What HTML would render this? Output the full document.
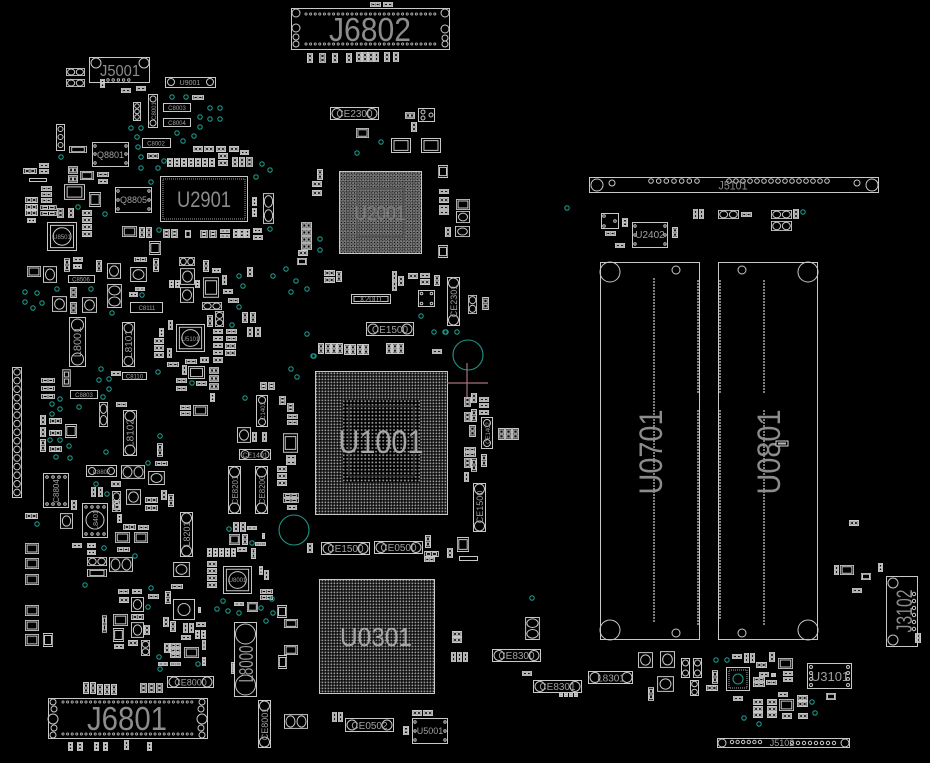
<!DOCTYPE html>
<html><head><meta charset="utf-8">
<style>
html,body{margin:0;padding:0;background:#000;}
svg{display:block}
.s{fill:none;stroke:#c8c8c8;stroke-width:1}
symbol rect,symbol circle,symbol line{fill:none;stroke:#c8c8c8;stroke-width:1;vector-effect:non-scaling-stroke}
.via{fill:none;stroke:#1e968a;stroke-width:1.1}
text{font-family:"Liberation Sans",sans-serif;fill:#8c8c8c}
.t{fill:#a0a0a0}
.pin{stroke:#b8b8b8;stroke-width:3;stroke-linecap:round;fill:none}
.pinb{stroke:#000;stroke-width:1.3;stroke-linecap:round;fill:none}
.dot{stroke:#a8a8a8;stroke-width:2;stroke-linecap:round;stroke-dasharray:0 3;fill:none}
</style></head>
<body>
<svg width="930" height="763" viewBox="0 0 930 763" xmlns="http://www.w3.org/2000/svg">
<defs>
<symbol id="h" viewBox="0 0 12 6" preserveAspectRatio="none"><rect x=".5" y=".5" width="11" height="5"/><rect x="2" y="1.6" width="3.3" height="2.8"/><rect x="6.7" y="1.6" width="3.3" height="2.8"/></symbol>
<symbol id="v" viewBox="0 0 6 12" preserveAspectRatio="none"><rect x=".5" y=".5" width="5" height="11"/><rect x="1.6" y="2" width="2.8" height="3.3"/><rect x="1.6" y="6.7" width="2.8" height="3.3"/></symbol>
<symbol id="ic" viewBox="0 0 20 14" preserveAspectRatio="none"><rect x=".5" y=".5" width="19" height="13"/><rect x="3" y="2.5" width="14" height="9"/></symbol>
<symbol id="cr" viewBox="0 0 14 14" preserveAspectRatio="none"><rect x=".5" y=".5" width="13" height="13"/><circle cx="7" cy="7" r="4.5"/></symbol>
<symbol id="dc" viewBox="0 0 24 12" preserveAspectRatio="none"><rect x=".5" y=".5" width="23" height="11"/><circle cx="6.5" cy="6" r="4.5"/><circle cx="17.5" cy="6" r="4.5"/></symbol>
<symbol id="dv" viewBox="0 0 12 24" preserveAspectRatio="none"><rect x=".5" y=".5" width="11" height="23"/><circle cx="6" cy="6.5" r="4.5"/><circle cx="6" cy="17.5" r="4.5"/></symbol>
<symbol id="qfn" viewBox="0 0 30 30" preserveAspectRatio="none"><rect x=".5" y=".5" width="29" height="29"/><rect x="3.5" y="3.5" width="23" height="23"/><circle cx="15" cy="15" r="9"/></symbol>
<pattern id="bga" width="3" height="3" patternUnits="userSpaceOnUse"><rect x=".5" y=".5" width="1.8" height="1.8" fill="#9c9c9c"/></pattern>
<pattern id="bga2" width="3.6" height="3.6" patternUnits="userSpaceOnUse"><rect x=".8" y=".8" width="1.7" height="1.7" fill="#a0a0a0"/></pattern>
<pattern id="grid" width="3.3" height="3.3" patternUnits="userSpaceOnUse"><rect x=".5" y=".5" width="2.1" height="2.1" fill="none" stroke="#aaaaaa" stroke-width=".7"/></pattern>
</defs>
<rect width="930" height="763" fill="#000"/>

<!-- ===== J6802 ===== -->
<use href="#h" x="370" y="2" width="11" height="5"/><use href="#h" x="383" y="2" width="10" height="5"/>
<rect class="s" x="291.5" y="8.5" width="158" height="41"/>
<g class="s"><circle cx="296" cy="13" r="4"/><circle cx="296" cy="28" r="4"/><circle cx="296" cy="37" r="3"/><circle cx="296" cy="44" r="3"/>
<circle cx="445" cy="13" r="4"/><circle cx="445" cy="29" r="4"/><circle cx="445" cy="38" r="3"/><circle cx="445" cy="44" r="3"/></g>
<line class="pin" x1="306" y1="14" x2="436" y2="14" stroke-dasharray="0 4.6"/><line class="pinb" x1="306" y1="14" x2="436" y2="14" stroke-dasharray="0 4.6"/>
<line class="pin" x1="306" y1="44" x2="436" y2="44" stroke-dasharray="0 4.6"/><line class="pinb" x1="306" y1="44" x2="436" y2="44" stroke-dasharray="0 4.6"/>
<text x="370" y="41" font-size="33" text-anchor="middle" textLength="82" lengthAdjust="spacingAndGlyphs">J6802</text>
<use href="#v" x="307" y="53" width="6" height="10"/><use href="#v" x="319" y="53" width="7" height="10"/><use href="#v" x="332" y="53" width="6" height="10"/><use href="#v" x="346" y="53" width="6" height="10"/>
<use href="#v" x="356" y="52" width="6" height="10"/><use href="#v" x="362" y="52" width="6" height="10"/><use href="#v" x="368" y="52" width="6" height="10"/><use href="#v" x="374" y="52" width="5" height="10"/>
<use href="#v" x="384" y="52" width="6" height="10"/><use href="#v" x="393" y="52" width="6" height="10"/>

<!-- ===== top-left cluster ===== -->
<use href="#dc" x="66" y="68" width="19" height="8"/><use href="#dc" x="66" y="79" width="19" height="8"/>
<rect class="s" x="89.5" y="57.5" width="60" height="25"/>
<circle class="s" cx="96" cy="63" r="5"/><circle class="s" cx="144" cy="63" r="5"/>
<line class="pin" x1="108" y1="80" x2="134" y2="80" stroke-dasharray="0 5.2" style="stroke-width:3.4"/><line class="pinb" x1="108" y1="80" x2="134" y2="80" stroke-dasharray="0 5.2" style="stroke-width:1.6"/>
<text x="120" y="76" font-size="16" text-anchor="middle" textLength="40" lengthAdjust="spacingAndGlyphs">J5001</text>
<use href="#v" x="100" y="79" width="5" height="9"/>
<use href="#h" x="121" y="88" width="10" height="5"/><use href="#h" x="136" y="86" width="10" height="5"/>
<rect class="s" x="165.5" y="77.5" width="50" height="10"/><circle class="s" cx="171" cy="82" r="3.5"/><circle class="s" cx="210" cy="82" r="3.5"/>
<text class="t" x="190" y="85" font-size="7" text-anchor="middle">U9001</text>
<rect class="s" x="148.5" y="94.5" width="9" height="33"/><circle class="s" cx="153" cy="99" r="3"/><circle class="s" cx="153" cy="123" r="3"/>
<text class="t" transform="translate(156,111) rotate(-90)" font-size="6" text-anchor="middle">C8001</text>
<rect class="s" x="133.5" y="102.5" width="7" height="18"/><circle class="s" cx="137" cy="106" r="2.3"/><circle class="s" cx="137" cy="111.5" r="2.3"/><circle class="s" cx="137" cy="117" r="2.3"/>
<rect class="s" x="163.5" y="103.5" width="27" height="8"/><text class="t" x="177" y="110" font-size="6" text-anchor="middle">C8003</text>
<rect class="s" x="163.5" y="118.5" width="27" height="8"/><text class="t" x="177" y="125" font-size="6" text-anchor="middle">C8004</text>
<use href="#h" x="192" y="95" width="12" height="5"/>
<rect class="s" x="142.5" y="138.5" width="28" height="9"/><text class="t" x="156" y="145.5" font-size="6" text-anchor="middle">C8002</text>
<rect class="s" x="56.5" y="124.5" width="8" height="26"/><circle class="s" cx="60.5" cy="129" r="2.5"/><circle class="s" cx="60.5" cy="137" r="2.5"/><circle class="s" cx="60.5" cy="145" r="2.5"/>
<use href="#ic" x="69" y="146" width="18" height="7"/>
<rect class="s" x="92.5" y="142.5" width="36" height="24"/>
<g class="s"><circle cx="95" cy="146" r="1.2"/><circle cx="95" cy="154" r="1.2"/><circle cx="95" cy="163" r="1.2"/><circle cx="126" cy="146" r="1.2"/><circle cx="126" cy="154" r="1.2"/><circle cx="126" cy="163" r="1.2"/></g>
<text class="t" x="110.5" y="158" font-size="9" text-anchor="middle">Q8801</text>
<use href="#h" x="147" y="153" width="12" height="6"/>
<use href="#v" x="167" y="158" width="6" height="9"/><use href="#v" x="174" y="158" width="6" height="9"/><use href="#v" x="181" y="158" width="6" height="9"/><use href="#v" x="188" y="158" width="6" height="9"/><use href="#v" x="195" y="158" width="6" height="9"/><use href="#v" x="202" y="158" width="6" height="9"/><use href="#v" x="209" y="158" width="6" height="9"/>
<use href="#h" x="193" y="146" width="10" height="6"/><use href="#h" x="204" y="146" width="10" height="6"/><use href="#h" x="216" y="146" width="10" height="6"/><use href="#h" x="229" y="146" width="10" height="6"/><use href="#h" x="240" y="150" width="9" height="5"/>
<use href="#h" x="218" y="153" width="10" height="6"/><use href="#h" x="218" y="160" width="10" height="6"/>
<use href="#v" x="232" y="157" width="6" height="10"/><use href="#v" x="239" y="157" width="6" height="10"/><use href="#v" x="246" y="157" width="7" height="10"/>
<!-- U2901 -->
<rect class="s" x="160.5" y="176.5" width="87" height="45"/><rect x="163" y="179" width="82" height="40" fill="none" stroke="#9a9a9a" stroke-width="1" stroke-dasharray="1 1"/>
<text x="204" y="207" font-size="22" text-anchor="middle" textLength="54" lengthAdjust="spacingAndGlyphs">U2901</text>
<use href="#dv" x="263" y="193" width="11" height="31"/><use href="#v" x="252" y="197" width="5" height="9"/><use href="#v" x="252" y="208" width="5" height="9"/>
<rect class="s" x="115.5" y="187.5" width="36" height="25"/>
<g class="s"><circle cx="118" cy="191" r="1.2"/><circle cx="118" cy="200" r="1.2"/><circle cx="118" cy="209" r="1.2"/><circle cx="149" cy="191" r="1.2"/><circle cx="149" cy="200" r="1.2"/><circle cx="149" cy="209" r="1.2"/></g>
<text class="t" x="133.5" y="203" font-size="9" text-anchor="middle">Q8805</text>
<use href="#ic" x="64" y="184" width="21" height="16"/><use href="#ic" x="89" y="192" width="12" height="15"/>
<use href="#qfn" x="47" y="222" width="30" height="29"/><text class="t" x="62" y="239" font-size="6" text-anchor="middle">U8501</text>
<use href="#v" x="163" y="229" width="7" height="9"/><use href="#v" x="171" y="229" width="7" height="9"/><use href="#ic" x="185" y="230" width="6" height="8"/>
<use href="#v" x="200" y="230" width="8" height="8"/><use href="#v" x="209" y="230" width="8" height="8"/>
<use href="#h" x="220" y="229" width="10" height="4"/><use href="#h" x="220" y="234" width="10" height="4"/>
<use href="#v" x="233" y="229" width="6" height="9"/><use href="#v" x="239" y="229" width="6" height="9"/><use href="#v" x="245" y="229" width="5" height="9"/>
<use href="#h" x="253" y="228" width="9" height="5"/><use href="#h" x="253" y="235" width="10" height="5"/>
<use href="#ic" x="122" y="226" width="15" height="11"/><use href="#v" x="139" y="227" width="6" height="11"/><use href="#v" x="146" y="227" width="6" height="11"/><use href="#ic" x="149" y="241" width="12" height="14"/>
<use href="#h" x="23" y="168" width="14" height="6"/><use href="#h" x="39" y="163" width="10" height="5"/><use href="#h" x="39" y="169" width="10" height="5"/>
<rect class="s" x="29.5" y="178.5" width="17" height="3"/>
<use href="#h" x="41" y="186" width="11" height="5"/><use href="#h" x="41" y="192" width="11" height="5"/><use href="#h" x="41" y="198" width="11" height="5"/>
<use href="#h" x="25" y="197" width="13" height="6"/><use href="#h" x="25" y="204" width="13" height="6"/><use href="#h" x="25" y="210" width="13" height="6"/><use href="#h" x="27" y="218" width="9" height="5"/>
<use href="#h" x="40" y="205" width="17" height="5"/><use href="#h" x="40" y="211" width="17" height="5"/>
<use href="#v" x="57" y="208" width="7" height="10"/><use href="#v" x="68" y="208" width="6" height="10"/>
<use href="#h" x="82" y="210" width="10" height="6"/><use href="#h" x="82" y="217" width="10" height="6"/><use href="#h" x="82" y="224" width="10" height="6"/><use href="#h" x="82" y="231" width="10" height="6"/>
<use href="#h" x="68" y="166" width="10" height="8"/><use href="#h" x="68" y="175" width="10" height="8"/><use href="#ic" x="80" y="171" width="14" height="9"/>
<use href="#h" x="97" y="172" width="12" height="5"/><use href="#h" x="98" y="179" width="10" height="5"/>

<!-- ===== left-middle cluster ===== -->
<use href="#ic" x="27" y="266" width="14" height="11"/><use href="#cr" x="43" y="266" width="14" height="17"/>
<rect class="s" x="68.5" y="275.5" width="26" height="7"/><text class="t" x="81" y="281.5" font-size="6" text-anchor="middle">C8506</text>
<use href="#v" x="64" y="258" width="6" height="14"/><use href="#h" x="73" y="257" width="10" height="5"/><use href="#h" x="73" y="264" width="9" height="5"/>
<use href="#v" x="96" y="260" width="6" height="12"/><use href="#cr" x="107" y="263" width="14" height="16"/><use href="#cr" x="130" y="267" width="17" height="15"/>
<use href="#h" x="134" y="257" width="13" height="5"/><use href="#v" x="153" y="258" width="6" height="14"/>
<use href="#dc" x="179" y="257" width="16" height="9"/><use href="#cr" x="180" y="268" width="15" height="17"/><use href="#cr" x="180" y="287" width="14" height="16"/>
<use href="#v" x="169" y="280" width="5" height="8"/><use href="#v" x="175" y="280" width="5" height="8"/><use href="#v" x="195" y="280" width="5" height="8"/>
<use href="#ic" x="203" y="277" width="16" height="21"/><use href="#v" x="203" y="260" width="6" height="12"/><use href="#h" x="212" y="268" width="9" height="5"/>
<use href="#v" x="222" y="275" width="5" height="10"/><use href="#h" x="223" y="289" width="10" height="5"/><use href="#h" x="228" y="298" width="11" height="5"/>
<use href="#dc" x="202" y="302" width="20" height="8"/><use href="#v" x="207" y="315" width="6" height="12"/><use href="#dv" x="215" y="311" width="9" height="16"/>
<use href="#v" x="242" y="312" width="6" height="11"/><use href="#v" x="250" y="312" width="6" height="11"/><use href="#v" x="247" y="327" width="6" height="10"/><use href="#v" x="255" y="327" width="6" height="10"/>
<use href="#v" x="247" y="267" width="6" height="10"/>
<use href="#cr" x="52" y="296" width="15" height="16"/><use href="#v" x="70" y="287" width="7" height="11"/><use href="#v" x="70" y="302" width="7" height="12"/>
<use href="#cr" x="82" y="297" width="15" height="16"/><use href="#dv" x="107" y="284" width="15" height="24"/>
<rect class="s" x="130.5" y="302.5" width="32" height="10"/><text class="t" x="147" y="310" font-size="6" text-anchor="middle">C8111</text>
<use href="#h" x="129" y="292" width="9" height="5"/><use href="#h" x="135" y="287" width="10" height="4"/>
<!-- L8001 / L8101 -->
<rect class="s" x="69.5" y="317.5" width="16" height="49"/><circle class="s" cx="77.5" cy="325" r="6"/><circle class="s" cx="77.5" cy="359" r="6"/>
<text class="t" transform="translate(81,342) rotate(-90)" font-size="11" text-anchor="middle">L8001</text>
<rect class="s" x="122.5" y="322.5" width="12" height="44"/><circle class="s" cx="128.5" cy="328" r="4.5"/><circle class="s" cx="128.5" cy="361" r="4.5"/>
<text class="t" transform="translate(132,344) rotate(-90)" font-size="10" text-anchor="middle">L8101</text>
<use href="#qfn" x="176" y="324" width="29" height="28"/><text class="t" x="190.5" y="341" font-size="6" text-anchor="middle">U5101</text>
<use href="#h" x="154" y="338" width="10" height="6"/><use href="#h" x="154" y="345" width="10" height="6"/><use href="#h" x="154" y="352" width="10" height="6"/>
<use href="#v" x="167" y="348" width="5" height="10"/><use href="#v" x="159" y="328" width="5" height="9"/><use href="#v" x="168" y="320" width="5" height="10"/>
<use href="#h" x="167" y="362" width="12" height="5"/><use href="#v" x="182" y="365" width="5" height="10"/><use href="#ic" x="188" y="366" width="17" height="13"/>
<use href="#h" x="185" y="359" width="12" height="5"/><use href="#h" x="200" y="357" width="9" height="6"/>
<use href="#h" x="209" y="367" width="10" height="7"/><use href="#h" x="209" y="375" width="10" height="7"/><use href="#h" x="209" y="383" width="10" height="7"/>
<use href="#v" x="210" y="393" width="5" height="9"/><use href="#h" x="196" y="381" width="11" height="5"/><use href="#h" x="176" y="378" width="11" height="5"/><use href="#h" x="176" y="386" width="11" height="5"/>
<use href="#h" x="213" y="329" width="10" height="5"/><use href="#h" x="213" y="336" width="10" height="5"/><use href="#h" x="213" y="343" width="10" height="5"/><use href="#h" x="213" y="350" width="10" height="5"/><use href="#h" x="213" y="357" width="10" height="6"/>
<use href="#h" x="226" y="329" width="11" height="5"/><use href="#h" x="226" y="336" width="11" height="5"/><use href="#h" x="225" y="343" width="11" height="6"/><use href="#h" x="225" y="350" width="11" height="6"/>
<use href="#h" x="180" y="405" width="11" height="5"/><use href="#h" x="180" y="411" width="11" height="5"/><use href="#ic" x="193" y="405" width="15" height="11"/>
<use href="#v" x="260" y="382" width="7" height="8"/><use href="#v" x="268" y="382" width="7" height="8"/>
<rect class="s" x="256.5" y="395.5" width="11" height="31"/><circle class="s" cx="262" cy="400" r="3.5"/><circle class="s" cx="262" cy="422" r="3.5"/>
<text class="t" transform="translate(265,411) rotate(-90)" font-size="6" text-anchor="middle">C1403</text>
<use href="#v" x="279" y="396" width="7" height="9"/><use href="#v" x="287" y="403" width="7" height="9"/>
<use href="#h" x="287" y="414" width="11" height="5"/><use href="#h" x="287" y="420" width="11" height="5"/>
<use href="#ic" x="283" y="433" width="15" height="20"/><use href="#h" x="286" y="455" width="10" height="5"/><use href="#h" x="286" y="460" width="10" height="5"/>
<use href="#h" x="277" y="466" width="10" height="6"/><use href="#h" x="277" y="473" width="10" height="6"/><use href="#h" x="277" y="480" width="10" height="6"/>
<use href="#h" x="283" y="493" width="16" height="5"/><use href="#h" x="283" y="498" width="16" height="5"/><use href="#h" x="287" y="505" width="10" height="5"/>
<use href="#cr" x="237" y="427" width="14" height="16"/><use href="#v" x="252" y="432" width="5" height="10"/><use href="#v" x="262" y="432" width="5" height="10"/>
<rect class="s" x="239.5" y="449.5" width="31" height="10"/><circle class="s" cx="245" cy="454.5" r="4"/><circle class="s" cx="265" cy="454.5" r="4"/><text class="t" x="255" y="457.5" font-size="7" text-anchor="middle">CE1401</text>
<rect class="s" x="228.5" y="466.5" width="12" height="47"/><circle class="s" cx="234.5" cy="472" r="5"/><circle class="s" cx="234.5" cy="508" r="5"/>
<text class="t" transform="translate(238,490) rotate(-90)" font-size="8" text-anchor="middle">CE8201</text>
<rect class="s" x="255.5" y="466.5" width="12" height="47"/><circle class="s" cx="261.5" cy="472" r="5"/><circle class="s" cx="261.5" cy="508" r="5"/>
<text class="t" transform="translate(265,490) rotate(-90)" font-size="8" text-anchor="middle">CE8200</text>
<!-- left vertical connector -->
<rect class="s" x="12.5" y="367.5" width="9" height="130"/>
<g class="s"><circle cx="17" cy="372" r="3.3"/><circle cx="17" cy="380.6" r="3.3"/><circle cx="17" cy="389.2" r="3.3"/><circle cx="17" cy="397.8" r="3.3"/><circle cx="17" cy="406.4" r="3.3"/><circle cx="17" cy="415" r="3.3"/><circle cx="17" cy="423.6" r="3.3"/><circle cx="17" cy="432.2" r="3.3"/><circle cx="17" cy="440.8" r="3.3"/><circle cx="17" cy="449.4" r="3.3"/><circle cx="17" cy="458" r="3.3"/><circle cx="17" cy="466.6" r="3.3"/><circle cx="17" cy="475.2" r="3.3"/><circle cx="17" cy="483.8" r="3.3"/><circle cx="17" cy="492.4" r="3.3"/></g>
<use href="#h" x="41" y="378" width="14" height="5"/><use href="#h" x="41" y="386" width="14" height="5"/><use href="#h" x="41" y="394" width="14" height="5"/>
<use href="#v" x="62" y="369" width="9" height="18"/>
<rect class="s" x="70.5" y="390.5" width="27" height="8"/><text class="t" x="84" y="397" font-size="6" text-anchor="middle">C8803</text>
<use href="#dv" x="99" y="402" width="9" height="25"/><use href="#h" x="111" y="371" width="10" height="5"/>
<rect class="s" x="122.5" y="372.5" width="24" height="7"/><text class="t" x="134.5" y="378.5" font-size="6" text-anchor="middle">C8110</text>
<use href="#h" x="116" y="402" width="11" height="5"/>
<rect class="s" x="123.5" y="410.5" width="13" height="45"/><circle class="s" cx="130" cy="416" r="5"/><circle class="s" cx="130" cy="450" r="5"/>
<text class="t" transform="translate(133.5,433) rotate(-90)" font-size="10" text-anchor="middle">L8102</text>
<use href="#v" x="40" y="415" width="6" height="10"/><use href="#v" x="40" y="427" width="6" height="10"/><use href="#v" x="40" y="439" width="6" height="13"/>
<use href="#h" x="49" y="418" width="13" height="6"/><use href="#h" x="49" y="430" width="13" height="6"/><use href="#h" x="49" y="446" width="13" height="6"/>
<use href="#ic" x="65" y="424" width="12" height="14"/>
<use href="#v" x="157" y="443" width="6" height="14"/><use href="#h" x="155" y="461" width="13" height="5"/>
<rect class="s" x="86.5" y="465.5" width="30" height="11"/><circle class="s" cx="92" cy="471" r="3.5"/><circle class="s" cx="111" cy="471" r="3.5"/><text class="t" x="101.5" y="474" font-size="6" text-anchor="middle">C8802</text>
<use href="#dc" x="121" y="465" width="24" height="14"/><use href="#cr" x="148" y="471" width="17" height="14"/>
<rect class="s" x="43.5" y="473.5" width="25" height="34"/>
<g class="s"><circle cx="47" cy="477" r="1.3"/><circle cx="53" cy="477" r="1.3"/><circle cx="59" cy="477" r="1.3"/><circle cx="65" cy="477" r="1.3"/><circle cx="47" cy="504" r="1.3"/><circle cx="53" cy="504" r="1.3"/><circle cx="59" cy="504" r="1.3"/><circle cx="65" cy="504" r="1.3"/></g>
<text class="t" transform="translate(59,491) rotate(-90)" font-size="8" text-anchor="middle">C8804</text>
<use href="#v" x="91" y="487" width="5" height="10"/><use href="#v" x="98" y="487" width="5" height="10"/><use href="#h" x="111" y="481" width="10" height="6"/>
<use href="#dv" x="112" y="491" width="9" height="21"/><use href="#cr" x="126" y="489" width="15" height="16"/>
<use href="#h" x="145" y="497" width="13" height="6"/><use href="#h" x="145" y="505" width="13" height="6"/><use href="#v" x="161" y="490" width="6" height="10"/><use href="#v" x="168" y="494" width="6" height="13"/>
<rect class="s" x="82.5" y="503.5" width="25" height="34"/><circle class="s" cx="95" cy="520" r="9"/>
<g class="s"><circle cx="86" cy="507" r="1.2"/><circle cx="92" cy="507" r="1.2"/><circle cx="98" cy="507" r="1.2"/><circle cx="104" cy="507" r="1.2"/><circle cx="86" cy="534" r="1.2"/><circle cx="92" cy="534" r="1.2"/><circle cx="98" cy="534" r="1.2"/><circle cx="104" cy="534" r="1.2"/></g>
<text class="t" transform="translate(98,520) rotate(-90)" font-size="7" text-anchor="middle">L8401</text>
<use href="#h" x="25" y="513" width="13" height="6"/><use href="#v" x="71" y="500" width="6" height="10"/>

<!-- ===== lower-left cluster ===== -->
<use href="#cr" x="60" y="513" width="13" height="16"/><use href="#h" x="72" y="543" width="10" height="5"/>
<use href="#h" x="87" y="543" width="9" height="5"/><use href="#h" x="87" y="550" width="9" height="5"/>
<use href="#dc" x="87" y="557" width="20" height="9"/><use href="#ic" x="87" y="569" width="20" height="8"/><use href="#dc" x="109" y="557" width="24" height="15"/>
<use href="#v" x="113" y="500" width="8" height="10"/><use href="#v" x="117" y="514" width="5" height="9"/><use href="#h" x="123" y="524" width="13" height="6"/><use href="#h" x="138" y="525" width="11" height="5"/>
<use href="#ic" x="115" y="532" width="15" height="11"/><use href="#ic" x="134" y="532" width="14" height="11"/><use href="#h" x="117" y="547" width="13" height="5"/>
<rect class="s" x="180.5" y="512.5" width="12" height="44"/><circle class="s" cx="186.5" cy="518" r="5"/><circle class="s" cx="186.5" cy="551" r="5"/>
<text class="t" transform="translate(190,534) rotate(-90)" font-size="9" text-anchor="middle">L8201</text>
<use href="#cr" x="173" y="562" width="17" height="15"/>
<use href="#ic" x="25" y="543" width="14" height="11"/><use href="#ic" x="25" y="558" width="14" height="11"/><use href="#ic" x="25" y="574" width="14" height="11"/>
<use href="#ic" x="25" y="605" width="14" height="11"/><use href="#ic" x="25" y="620" width="14" height="11"/><use href="#ic" x="25" y="634" width="14" height="12"/><use href="#ic" x="43" y="633" width="10" height="14"/>
<use href="#h" x="118" y="589" width="11" height="5"/><use href="#h" x="132" y="589" width="10" height="5"/><use href="#h" x="148" y="594" width="11" height="5"/><use href="#h" x="119" y="597" width="10" height="6"/>
<use href="#cr" x="131" y="597" width="13" height="15"/><use href="#v" x="165" y="591" width="6" height="13"/><use href="#h" x="171" y="584" width="12" height="5"/>
<rect class="s" x="173.5" y="599.5" width="21" height="20"/><circle class="s" cx="184" cy="609.5" r="6"/><use href="#v" x="198" y="607" width="3" height="6"/>
<use href="#v" x="102" y="615" width="5" height="18"/><use href="#ic" x="113" y="614" width="15" height="12"/><use href="#h" x="131" y="614" width="13" height="6"/>
<use href="#cr" x="131" y="622" width="13" height="16"/><use href="#v" x="144" y="625" width="6" height="10"/><use href="#ic" x="113" y="628" width="11" height="14"/>
<use href="#h" x="114" y="644" width="10" height="5"/><use href="#h" x="128" y="640" width="10" height="6"/><use href="#dv" x="141" y="640" width="9" height="16"/>
<use href="#v" x="163" y="617" width="6" height="10"/><use href="#v" x="170" y="621" width="6" height="11"/>
<use href="#v" x="183" y="623" width="5" height="10"/><use href="#v" x="189" y="623" width="5" height="10"/><use href="#h" x="196" y="622" width="10" height="5"/>
<use href="#v" x="195" y="630" width="5" height="9"/><use href="#v" x="201" y="630" width="5" height="9"/><use href="#h" x="181" y="635" width="10" height="5"/>
<use href="#v" x="202" y="640" width="4" height="10"/><use href="#ic" x="184" y="647" width="15" height="11"/><use href="#v" x="202" y="657" width="4" height="9"/>
<use href="#v" x="164" y="643" width="6" height="10"/><use href="#h" x="170" y="643" width="11" height="5"/><use href="#h" x="170" y="648" width="11" height="5"/><use href="#h" x="170" y="653" width="11" height="5"/>
<use href="#h" x="158" y="662" width="10" height="4"/><use href="#h" x="170" y="662" width="11" height="4"/>
<use href="#v" x="207" y="548" width="5" height="9"/><use href="#v" x="213" y="548" width="5" height="9"/><use href="#v" x="219" y="548" width="5" height="9"/><use href="#v" x="225" y="548" width="5" height="9"/><use href="#v" x="231" y="548" width="5" height="9"/>
<use href="#h" x="207" y="561" width="10" height="6"/><use href="#h" x="207" y="568" width="10" height="6"/><use href="#h" x="207" y="575" width="10" height="6"/><use href="#h" x="207" y="582" width="10" height="6"/>
<use href="#qfn" x="223" y="566" width="29" height="28"/><text class="t" x="237.5" y="582" font-size="6" text-anchor="middle">U8001</text>
<use href="#v" x="233" y="522" width="6" height="10"/><use href="#v" x="240" y="522" width="6" height="10"/><use href="#ic" x="229" y="534" width="11" height="11"/>
<use href="#v" x="242" y="534" width="6" height="11"/><use href="#h" x="247" y="526" width="10" height="4"/><use href="#h" x="237" y="547" width="10" height="5"/>
<use href="#v" x="251" y="548" width="5" height="11"/><use href="#h" x="255" y="542" width="11" height="4"/><use href="#v" x="262" y="533" width="3" height="6"/>
<use href="#v" x="259" y="566" width="4" height="9"/><use href="#v" x="264" y="570" width="5" height="10"/>
<use href="#h" x="260" y="589" width="13" height="5"/><use href="#h" x="260" y="595" width="13" height="5"/><use href="#ic" x="247" y="602" width="11" height="10"/><use href="#h" x="234" y="602" width="10" height="4"/>
<use href="#ic" x="277" y="605" width="10" height="13"/><use href="#ic" x="284" y="619" width="14" height="9"/><use href="#ic" x="284" y="645" width="14" height="10"/><use href="#ic" x="278" y="655" width="9" height="14"/>
<!-- L8000 -->
<rect class="s" x="234.5" y="622.5" width="22" height="74"/><circle class="s" cx="245.5" cy="634" r="10"/><circle class="s" cx="245.5" cy="685" r="10"/>
<text transform="translate(253,664) rotate(-90)" font-size="20" text-anchor="middle" textLength="37" lengthAdjust="spacingAndGlyphs" style="fill:#9a9a9a">L8000</text>
<use href="#v" x="231" y="662" width="3" height="12"/>
<rect class="s" x="167.5" y="676.5" width="46" height="11"/><circle class="s" cx="174" cy="682" r="5"/><circle class="s" cx="207" cy="682" r="5"/><text class="t" x="190.5" y="685.5" font-size="9" text-anchor="middle">CE8000</text>
<rect class="s" x="258.5" y="700.5" width="12" height="47"/><circle class="s" cx="264.5" cy="706" r="5"/><circle class="s" cx="264.5" cy="742" r="5"/>
<text class="t" transform="translate(268,724) rotate(-90)" font-size="9" text-anchor="middle">CE8001</text>
<use href="#dc" x="284" y="714" width="24" height="15"/>
<use href="#v" x="83" y="682" width="6" height="12"/><use href="#v" x="90" y="682" width="6" height="12"/><use href="#v" x="97" y="684" width="6" height="11"/><use href="#v" x="104" y="684" width="6" height="11"/><use href="#v" x="111" y="684" width="6" height="11"/>
<use href="#v" x="140" y="683" width="7" height="10"/><use href="#v" x="148" y="683" width="7" height="10"/><use href="#v" x="156" y="683" width="7" height="10"/>
<!-- J6801 -->
<rect class="s" x="48.5" y="698.5" width="159" height="40"/>
<g class="s"><circle cx="53" cy="702" r="3"/><circle cx="54" cy="709" r="3"/><circle cx="53" cy="719" r="5"/><circle cx="54" cy="728" r="3"/><circle cx="53" cy="735" r="3"/>
<circle cx="202" cy="702" r="3"/><circle cx="201" cy="709" r="3"/><circle cx="202" cy="719" r="5"/><circle cx="201" cy="728" r="3"/><circle cx="202" cy="735" r="3"/></g>
<line class="pin" x1="63" y1="702" x2="193" y2="702" stroke-dasharray="0 4.6"/><line class="pinb" x1="63" y1="702" x2="193" y2="702" stroke-dasharray="0 4.6"/>
<line class="pin" x1="63" y1="734" x2="193" y2="734" stroke-dasharray="0 4.6"/><line class="pinb" x1="63" y1="734" x2="193" y2="734" stroke-dasharray="0 4.6"/>
<text x="127" y="730" font-size="33" text-anchor="middle" textLength="80" lengthAdjust="spacingAndGlyphs">J6801</text>
<use href="#v" x="68" y="742" width="5" height="9"/><use href="#v" x="77" y="742" width="6" height="9"/><use href="#v" x="94" y="742" width="5" height="9"/><use href="#v" x="103" y="742" width="5" height="9"/><use href="#v" x="124" y="740" width="5" height="10"/><use href="#v" x="147" y="742" width="5" height="9"/>

<!-- ===== center top ===== -->
<rect class="s" x="330.5" y="107.5" width="48" height="12"/><circle class="s" cx="337" cy="113.5" r="5"/><circle class="s" cx="372" cy="113.5" r="5"/><text class="t" x="354.5" y="117" font-size="10" text-anchor="middle">CE2300</text>
<use href="#h" x="405" y="112" width="10" height="7"/><rect class="s" x="418.5" y="108.5" width="16" height="13"/><circle class="s" cx="423" cy="112" r="2"/><circle class="s" cx="423" cy="118" r="2"/><circle class="s" cx="431" cy="115" r="2"/>
<use href="#v" x="411" y="122" width="6" height="10"/><use href="#ic" x="356" y="128" width="13" height="10"/><use href="#ic" x="391" y="138" width="20" height="15"/><use href="#ic" x="421" y="138" width="20" height="15"/>
<!-- U2001 -->
<rect x="339.5" y="171.5" width="82" height="82" fill="url(#grid)" stroke="#c8c8c8"/>
<rect x="357" y="189" width="47" height="47" fill="none" stroke="#555" stroke-width="2"/>
<text x="380" y="220" font-size="20" text-anchor="middle" textLength="51" lengthAdjust="spacingAndGlyphs" style="fill:#7a7a7a">U2001</text>
<use href="#v" x="317" y="169" width="6" height="11"/><use href="#h" x="312" y="181" width="10" height="6"/><use href="#h" x="312" y="190" width="10" height="6"/>
<use href="#ic" x="438" y="165" width="10" height="13"/><use href="#h" x="439" y="189" width="10" height="5"/><use href="#h" x="439" y="197" width="10" height="6"/><use href="#h" x="439" y="205" width="10" height="5"/><use href="#h" x="439" y="210" width="10" height="5"/>
<use href="#ic" x="456" y="199" width="14" height="11"/><use href="#cr" x="456" y="211" width="14" height="12"/><use href="#v" x="445" y="227" width="6" height="10"/><use href="#cr" x="455" y="226" width="15" height="11"/><use href="#ic" x="438" y="245" width="10" height="13"/>
<use href="#h" x="301" y="222" width="11" height="7"/><use href="#h" x="301" y="229" width="11" height="7"/><use href="#h" x="301" y="236" width="11" height="7"/><use href="#h" x="301" y="243" width="11" height="7"/>
<use href="#h" x="298" y="250" width="10" height="6"/><use href="#ic" x="297" y="258" width="10" height="7"/>
<use href="#h" x="324" y="270" width="11" height="6"/><use href="#h" x="324" y="277" width="11" height="6"/><use href="#v" x="336" y="271" width="6" height="11"/>
<use href="#v" x="392" y="271" width="5" height="10"/><use href="#v" x="392" y="281" width="5" height="10"/><use href="#v" x="398" y="276" width="6" height="10"/>
<use href="#h" x="408" y="273" width="10" height="6"/><use href="#h" x="420" y="273" width="10" height="5"/><use href="#h" x="420" y="279" width="10" height="6"/><use href="#v" x="434" y="275" width="6" height="11"/>
<rect class="s" x="351.5" y="294.5" width="39" height="9"/><rect class="s" x="354" y="296.5" width="34" height="5"/><text class="t" x="371" y="302" font-size="8" text-anchor="middle">X2001</text>
<rect class="s" x="418.5" y="290.5" width="16" height="16"/><circle class="s" cx="421.5" cy="293.5" r="1.3"/><circle class="s" cx="431.5" cy="293.5" r="1.3"/><circle class="s" cx="421.5" cy="303.5" r="1.3"/><circle class="s" cx="431.5" cy="303.5" r="1.3"/>
<rect class="s" x="447.5" y="277.5" width="12" height="48"/><circle class="s" cx="453.5" cy="283" r="5"/><circle class="s" cx="453.5" cy="320" r="5"/>
<text class="t" transform="translate(457,301) rotate(-90)" font-size="9" text-anchor="middle">CE2301</text>
<use href="#dv" x="468" y="295" width="9" height="19"/><use href="#v" x="482" y="297" width="7" height="13"/>
<rect class="s" x="366.5" y="322.5" width="47" height="13"/><circle class="s" cx="373" cy="329" r="5"/><circle class="s" cx="407" cy="329" r="5"/><text class="t" x="390" y="333" font-size="10" text-anchor="middle">CE1500</text>
<use href="#v" x="318" y="343" width="6" height="11"/><use href="#v" x="325" y="343" width="6" height="11"/><use href="#v" x="331" y="343" width="6" height="11"/><use href="#v" x="337" y="343" width="6" height="11"/>
<use href="#v" x="344" y="344" width="6" height="11"/><use href="#v" x="350" y="344" width="6" height="11"/><use href="#v" x="357" y="344" width="6" height="11"/><use href="#v" x="363" y="344" width="6" height="11"/>
<use href="#v" x="386" y="343" width="6" height="11"/><use href="#v" x="392" y="343" width="6" height="11"/><use href="#v" x="398" y="343" width="6" height="11"/><use href="#h" x="432" y="349" width="10" height="5"/>

<!-- ===== U1001 ===== -->
<rect x="315.5" y="371.5" width="132" height="143" fill="url(#bga)" stroke="#c8c8c8"/>
<rect x="343" y="400" width="77" height="82" fill="#000"/>
<rect x="343" y="400" width="77" height="82" fill="url(#bga2)"/>
<rect x="349" y="406" width="65" height="70" fill="none" stroke="#2a2a2a" stroke-width="1.5"/>
<text x="381" y="453" font-size="32" text-anchor="middle" textLength="85" lengthAdjust="spacingAndGlyphs" style="fill:#a6a6a6">U1001</text>
<!-- teal circle + pink cross -->
<circle class="via" cx="468" cy="355" r="15"/>
<line x1="447" y1="383" x2="488" y2="383" stroke="#a8707c" stroke-width="1.2"/>
<line x1="467" y1="363" x2="467" y2="397" stroke="#a8707c" stroke-width="1.2"/>
<use href="#v" x="464" y="397" width="7" height="10"/><use href="#v" x="471" y="393" width="6" height="10"/>
<use href="#h" x="479" y="397" width="10" height="5"/><use href="#h" x="479" y="403" width="10" height="5"/><use href="#h" x="479" y="410" width="10" height="5"/>
<use href="#v" x="464" y="412" width="7" height="10"/><use href="#v" x="471" y="409" width="6" height="13"/><use href="#v" x="469" y="425" width="7" height="12"/>
<rect class="s" x="481.5" y="417.5" width="11" height="31"/><circle class="s" cx="487" cy="423" r="3.5"/><circle class="s" cx="487" cy="443" r="3.5"/>
<text class="t" transform="translate(490,433) rotate(-90)" font-size="6" text-anchor="middle">CE1402</text>
<use href="#v" x="498" y="428" width="7" height="12"/><use href="#v" x="505" y="428" width="7" height="12"/><use href="#v" x="512" y="428" width="7" height="12"/>
<use href="#h" x="464" y="447" width="12" height="5"/><use href="#h" x="464" y="452" width="12" height="5"/>
<use href="#v" x="464" y="458" width="7" height="10"/><use href="#v" x="471" y="458" width="6" height="14"/><use href="#v" x="464" y="472" width="5" height="10"/><use href="#v" x="481" y="454" width="6" height="13"/>
<rect class="s" x="473.5" y="483.5" width="12" height="48"/><circle class="s" cx="479.5" cy="489" r="5"/><circle class="s" cx="479.5" cy="526" r="5"/>
<text class="t" transform="translate(483,507) rotate(-90)" font-size="9" text-anchor="middle">CE1500</text>
<circle class="via" cx="294" cy="530" r="15"/>
<use href="#v" x="307" y="543" width="6" height="10"/>
<rect class="s" x="321.5" y="542.5" width="48" height="12"/><circle class="s" cx="328" cy="548.5" r="5"/><circle class="s" cx="363" cy="548.5" r="5"/><text class="t" x="345.5" y="552" font-size="10" text-anchor="middle">CE1500</text>
<rect class="s" x="374.5" y="541.5" width="48" height="12"/><circle class="s" cx="381" cy="547.5" r="5"/><circle class="s" cx="416" cy="547.5" r="5"/><text class="t" x="398.5" y="551" font-size="10" text-anchor="middle">CE0500</text>
<use href="#v" x="425" y="535" width="6" height="13"/><use href="#h" x="424" y="551" width="15" height="6"/><use href="#h" x="424" y="557" width="11" height="5"/>
<use href="#v" x="447" y="548" width="6" height="10"/><use href="#ic" x="457" y="537" width="12" height="15"/><rect class="s" x="459.5" y="556.5" width="18" height="4"/>

<!-- ===== U0301 ===== -->
<rect x="319.5" y="579.5" width="115" height="114" fill="url(#bga)" stroke="#c8c8c8"/>
<text x="376" y="646" font-size="26" text-anchor="middle" textLength="72" lengthAdjust="spacingAndGlyphs" style="fill:#a6a6a6">U0301</text>
<use href="#h" x="452" y="631" width="10" height="6"/><use href="#h" x="452" y="637" width="10" height="6"/>
<use href="#v" x="451" y="652" width="5" height="10"/><use href="#v" x="457" y="652" width="5" height="10"/><use href="#v" x="463" y="652" width="5" height="10"/>
<use href="#dv" x="525" y="617" width="15" height="23"/>
<rect class="s" x="492.5" y="649.5" width="48" height="12"/><circle class="s" cx="499" cy="655.5" r="5"/><circle class="s" cx="534" cy="655.5" r="5"/><text class="t" x="516.5" y="659" font-size="10" text-anchor="middle">CE8300</text>
<use href="#h" x="522" y="671" width="10" height="5"/>
<rect class="s" x="533.5" y="680.5" width="48" height="12"/><circle class="s" cx="540" cy="686.5" r="5"/><circle class="s" cx="575" cy="686.5" r="5"/><text class="t" x="557.5" y="690" font-size="10" text-anchor="middle">CE8301</text>
<use href="#v" x="559" y="692" width="4" height="5"/><use href="#v" x="564" y="692" width="4" height="5"/><use href="#v" x="569" y="692" width="4" height="5"/><use href="#v" x="574" y="692" width="4" height="5"/>
<use href="#v" x="332" y="712" width="5" height="10"/><use href="#v" x="338" y="712" width="5" height="10"/>
<rect class="s" x="345.5" y="718.5" width="48" height="13"/><circle class="s" cx="352" cy="725" r="5"/><circle class="s" cx="387" cy="725" r="5"/><text class="t" x="369.5" y="729" font-size="10" text-anchor="middle">CE0502</text>
<use href="#v" x="403" y="726" width="6" height="9"/><use href="#h" x="412" y="710" width="10" height="6"/><use href="#h" x="423" y="710" width="10" height="6"/>
<rect class="s" x="412.5" y="718.5" width="35" height="25"/>
<g class="s"><circle cx="415" cy="722" r="1.2"/><circle cx="415" cy="731" r="1.2"/><circle cx="415" cy="740" r="1.2"/><circle cx="445" cy="722" r="1.2"/><circle cx="445" cy="731" r="1.2"/><circle cx="445" cy="740" r="1.2"/></g>
<text class="t" x="430" y="734" font-size="9" text-anchor="middle">U5001</text>

<!-- ===== right: J5101 ===== -->
<rect class="s" x="589.5" y="177.5" width="289" height="15"/>
<circle class="s" cx="597" cy="185" r="6"/><circle class="s" cx="612" cy="183" r="3"/><circle class="s" cx="857" cy="183" r="3"/><circle class="s" cx="872" cy="185" r="6"/>
<g class="s"><circle cx="651" cy="181" r="2.3"/><circle cx="658.7" cy="181" r="2.3"/><circle cx="666.3" cy="181" r="2.3"/><circle cx="674" cy="181" r="2.3"/><circle cx="681.7" cy="181" r="2.3"/><circle cx="689.3" cy="181" r="2.3"/><circle cx="697" cy="181" r="2.3"/>
<circle cx="729" cy="181" r="2.3"/><circle cx="736" cy="181" r="2.3"/><circle cx="743" cy="181" r="2.3"/><circle cx="750" cy="181" r="2.3"/><circle cx="757" cy="181" r="2.3"/><circle cx="764" cy="181" r="2.3"/><circle cx="771" cy="181" r="2.3"/><circle cx="778" cy="181" r="2.3"/><circle cx="785" cy="181" r="2.3"/><circle cx="792" cy="181" r="2.3"/><circle cx="799" cy="181" r="2.3"/><circle cx="806" cy="181" r="2.3"/><circle cx="813" cy="181" r="2.3"/><circle cx="820" cy="181" r="2.3"/><circle cx="827" cy="181" r="2.3"/></g>
<text x="733" y="189.5" font-size="12" text-anchor="middle" textLength="29" lengthAdjust="spacingAndGlyphs">J5101</text>
<rect class="s" x="601.5" y="213.5" width="17" height="15"/><circle class="s" cx="604" cy="216" r="1.3"/><circle class="s" cx="604" cy="226" r="1.3"/><circle class="s" cx="615" cy="221" r="1.3"/>
<use href="#v" x="622" y="218" width="6" height="9"/><use href="#h" x="605" y="231" width="11" height="5"/><use href="#h" x="615" y="243" width="10" height="5"/>
<rect class="s" x="632.5" y="222.5" width="35" height="25"/>
<g class="s"><circle cx="635" cy="226" r="1.2"/><circle cx="635" cy="235" r="1.2"/><circle cx="635" cy="244" r="1.2"/><circle cx="665" cy="226" r="1.2"/><circle cx="665" cy="235" r="1.2"/><circle cx="665" cy="244" r="1.2"/></g>
<text class="t" x="650" y="238" font-size="10" text-anchor="middle">U2402</text>
<use href="#v" x="672" y="227" width="6" height="11"/>
<use href="#v" x="693" y="209" width="5" height="10"/><use href="#v" x="699" y="209" width="5" height="10"/>
<use href="#dc" x="718" y="210" width="21" height="9"/><use href="#h" x="741" y="212" width="11" height="5"/>
<use href="#dc" x="771" y="210" width="21" height="9"/><use href="#dc" x="771" y="221" width="21" height="10"/><use href="#v" x="793" y="209" width="6" height="10"/>

<!-- U0701 / U0801 -->
<rect class="s" x="600.5" y="262.5" width="99" height="377"/>
<circle class="s" cx="610" cy="272" r="10"/><circle class="s" cx="610" cy="630" r="10"/><circle class="s" cx="676" cy="270" r="4"/><circle class="s" cx="676" cy="633" r="4"/>
<line class="dot" x1="654" y1="279" x2="654" y2="623"/>
<line class="dot" x1="698" y1="281" x2="698" y2="394"/><line class="dot" x1="698" y1="411" x2="698" y2="625"/>
<text transform="translate(662,452) rotate(-90)" font-size="32" text-anchor="middle" textLength="85" lengthAdjust="spacingAndGlyphs">U0701</text>
<rect class="s" x="718.5" y="262.5" width="99" height="377"/>
<circle class="s" cx="808" cy="272" r="10"/><circle class="s" cx="808" cy="630" r="10"/><circle class="s" cx="742" cy="270" r="4"/><circle class="s" cx="742" cy="633" r="4"/>
<line class="dot" x1="720" y1="281" x2="720" y2="394"/><line class="dot" x1="720" y1="411" x2="720" y2="620"/>
<line class="dot" x1="764" y1="281" x2="764" y2="395"/><line class="dot" x1="764" y1="411" x2="764" y2="625"/>
<text transform="translate(780,452) rotate(-90)" font-size="32" text-anchor="middle" textLength="85" lengthAdjust="spacingAndGlyphs">U0801</text>
<rect x="776" y="441" width="12" height="5" fill="#000" stroke="#d8d8d8"/><rect x="778" y="442.5" width="8" height="2" fill="#bbb"/>
<use href="#h" x="849" y="520" width="10" height="6"/>

<!-- right bottom -->
<use href="#v" x="834" y="565" width="5" height="10"/><use href="#ic" x="840" y="565" width="14" height="10"/><use href="#v" x="878" y="563" width="5" height="9"/>
<use href="#ic" x="861" y="573" width="10" height="7"/><use href="#h" x="852" y="588" width="10" height="5"/>
<rect class="s" x="886.5" y="576.5" width="31" height="70"/><circle class="s" cx="893" cy="583" r="5"/><circle class="s" cx="893" cy="640" r="5"/>
<g class="s"><circle cx="914" cy="594" r="1.7"/><circle cx="914" cy="601" r="1.7"/><circle cx="914" cy="608" r="1.7"/><circle cx="914" cy="615" r="1.7"/><circle cx="914" cy="622" r="1.7"/><circle cx="914" cy="629" r="1.7"/></g>
<use href="#v" x="915" y="633" width="6" height="10"/>
<text transform="translate(912,611) rotate(-90)" font-size="22" text-anchor="middle" textLength="43" lengthAdjust="spacingAndGlyphs">J3102</text>
<rect class="s" x="807.5" y="663.5" width="44" height="25"/>
<g class="s"><circle cx="811" cy="667" r="1.5"/><circle cx="811" cy="673" r="1.5"/><circle cx="811" cy="679" r="1.5"/><circle cx="811" cy="685" r="1.5"/><circle cx="848" cy="667" r="1.5"/><circle cx="848" cy="673" r="1.5"/><circle cx="848" cy="679" r="1.5"/><circle cx="848" cy="685" r="1.5"/></g>
<text class="t" x="830" y="681" font-size="13" text-anchor="middle">U3101</text>
<use href="#cr" x="638" y="652" width="15" height="16"/><use href="#cr" x="660" y="651" width="15" height="17"/><use href="#cr" x="657" y="676" width="17" height="16"/>
<rect class="s" x="681.5" y="658.5" width="8" height="19"/><circle class="s" cx="685.5" cy="663" r="3"/><circle class="s" cx="685.5" cy="673" r="3"/>
<rect class="s" x="693.5" y="658.5" width="8" height="19"/><circle class="s" cx="697.5" cy="663" r="3"/><circle class="s" cx="697.5" cy="673" r="3"/>
<rect class="s" x="690.5" y="680.5" width="8" height="15"/><circle class="s" cx="694.5" cy="684" r="2.8"/><circle class="s" cx="694.5" cy="692" r="2.8"/>
<use href="#v" x="648" y="687" width="6" height="14"/>
<rect class="s" x="588.5" y="671.5" width="44" height="12"/><circle class="s" cx="595" cy="677.5" r="5"/><circle class="s" cx="627" cy="677.5" r="5"/><text class="t" x="611" y="681.5" font-size="10" text-anchor="middle">L8301</text>
<use href="#v" x="712" y="670" width="6" height="14"/><use href="#h" x="706" y="685" width="12" height="6"/>
<use href="#h" x="732" y="654" width="10" height="5"/><use href="#v" x="744" y="653" width="5" height="10"/><use href="#v" x="750" y="653" width="5" height="10"/><use href="#v" x="769" y="652" width="6" height="10"/>
<use href="#h" x="756" y="662" width="11" height="6"/><use href="#ic" x="778" y="658" width="15" height="11"/>
<rect class="s" x="726.5" y="667.5" width="23" height="23"/><rect x="729" y="670" width="18" height="18" fill="none" stroke="#aaa" stroke-dasharray="1 1"/><circle class="via" cx="738" cy="679" r="5"/>
<use href="#h" x="753" y="677" width="12" height="5"/><use href="#h" x="753" y="682" width="12" height="5"/><use href="#h" x="759" y="672" width="10" height="5"/><use href="#v" x="771" y="673" width="5" height="4"/><use href="#h" x="766" y="680" width="11" height="5"/>
<use href="#h" x="783" y="671" width="10" height="5"/><use href="#h" x="783" y="677" width="10" height="5"/>
<use href="#h" x="733" y="696" width="10" height="5"/>
<use href="#h" x="753" y="699" width="10" height="6"/><use href="#h" x="753" y="706" width="10" height="6"/><use href="#h" x="753" y="712" width="10" height="6"/>
<use href="#h" x="767" y="699" width="10" height="6"/><use href="#h" x="767" y="706" width="10" height="6"/><use href="#h" x="767" y="712" width="10" height="6"/>
<use href="#h" x="778" y="692" width="10" height="5"/><use href="#ic" x="779" y="699" width="15" height="12"/><use href="#h" x="782" y="713" width="10" height="6"/>
<use href="#h" x="797" y="695" width="11" height="6"/><use href="#h" x="797" y="701" width="11" height="6"/><use href="#h" x="798" y="713" width="10" height="6"/><use href="#ic" x="826" y="693" width="10" height="7"/>
<rect class="s" x="717.5" y="738.5" width="132" height="9"/><circle class="s" cx="722" cy="743" r="4"/><circle class="s" cx="845" cy="743" r="4"/>
<g class="s"><circle cx="732" cy="742" r="1.7"/><circle cx="737.6" cy="742" r="1.7"/><circle cx="743.2" cy="742" r="1.7"/><circle cx="748.8" cy="742" r="1.7"/><circle cx="754.4" cy="742" r="1.7"/><circle cx="760" cy="742" r="1.7"/>
<circle cx="792" cy="743" r="1.7"/><circle cx="798" cy="743" r="1.7"/><circle cx="804" cy="743" r="1.7"/><circle cx="810" cy="743" r="1.7"/><circle cx="816" cy="743" r="1.7"/><circle cx="822" cy="743" r="1.7"/><circle cx="828" cy="743" r="1.7"/><circle cx="834" cy="743" r="1.7"/></g>
<text class="t" x="782" y="746" font-size="9" text-anchor="middle">J5102</text>

<!-- ===== vias ===== -->
<g class="via">
<circle cx="172" cy="97" r="2.2"/><circle cx="186" cy="97" r="2.2"/><circle cx="210" cy="108" r="2.2"/><circle cx="220" cy="108" r="2.2"/><circle cx="200" cy="117" r="2.2"/><circle cx="210" cy="119" r="2.2"/><circle cx="220" cy="119" r="2.2"/><circle cx="200" cy="127" r="2.2"/>
<circle cx="131" cy="128" r="2.2"/><circle cx="141" cy="128" r="2.2"/><circle cx="137" cy="137" r="2.2"/><circle cx="177" cy="133" r="2.2"/><circle cx="194" cy="136" r="2.2"/><circle cx="183" cy="141" r="2.2"/><circle cx="138" cy="147" r="2.2"/><circle cx="141" cy="157" r="2.2"/><circle cx="141" cy="168" r="2.2"/><circle cx="158" cy="168" r="2.2"/><circle cx="164" cy="161" r="2.2"/><circle cx="151" cy="182" r="2.2"/>
<circle cx="262" cy="164" r="2.2"/><circle cx="270" cy="170" r="2.2"/><circle cx="256" cy="177" r="2.2"/><circle cx="78" cy="207" r="2.2"/><circle cx="105" cy="214" r="2.2"/><circle cx="61" cy="157" r="2.2"/><circle cx="159" cy="230" r="2.2"/><circle cx="270" cy="229" r="2.2"/>
<circle cx="25" cy="292" r="2.2"/><circle cx="37" cy="293" r="2.2"/><circle cx="25" cy="302" r="2.2"/><circle cx="33" cy="308" r="2.2"/><circle cx="42" cy="303" r="2.2"/><circle cx="57" cy="289" r="2.2"/><circle cx="91" cy="289" r="2.2"/><circle cx="112" cy="313" r="2.2"/><circle cx="142" cy="295" r="2.2"/>
<circle cx="101" cy="369" r="2.2"/><circle cx="99" cy="380" r="2.2"/><circle cx="109" cy="379" r="2.2"/><circle cx="109" cy="389" r="2.2"/><circle cx="103" cy="397" r="2.2"/><circle cx="60" cy="399" r="2.2"/><circle cx="52" cy="404" r="2.2"/><circle cx="60" cy="409" r="2.2"/><circle cx="79" cy="407" r="2.2"/><circle cx="52" cy="414" r="2.2"/>
<circle cx="50" cy="440" r="2.2"/><circle cx="60" cy="440" r="2.2"/><circle cx="69" cy="446" r="2.2"/><circle cx="56" cy="457" r="2.2"/><circle cx="70" cy="458" r="2.2"/><circle cx="106" cy="452" r="2.2"/><circle cx="158" cy="372" r="2.2"/><circle cx="160" cy="436" r="2.2"/><circle cx="148" cy="463" r="2.2"/>
<circle cx="96" cy="484" r="2.2"/><circle cx="107" cy="494" r="2.2"/><circle cx="192" cy="383" r="2.2"/><circle cx="232" cy="325" r="2.2"/><circle cx="239" cy="276" r="2.2"/><circle cx="243" cy="286" r="2.2"/><circle cx="239" cy="307" r="2.2"/><circle cx="273" cy="276" r="2.2"/><circle cx="286" cy="269" r="2.2"/><circle cx="296" cy="281" r="2.2"/><circle cx="291" cy="292" r="2.2"/><circle cx="307" cy="289" r="2.2"/><circle cx="307" cy="334" r="2.2"/><circle cx="314" cy="356" r="2.2"/><circle cx="291" cy="369" r="2.2"/><circle cx="297" cy="377" r="2.2"/><circle cx="245" cy="398" r="2.2"/>
<circle cx="37" cy="524" r="2.2"/><circle cx="104" cy="548" r="2.2"/><circle cx="135" cy="556" r="2.2"/><circle cx="85" cy="585" r="2.2"/><circle cx="151" cy="588" r="2.2"/><circle cx="148" cy="607" r="2.2"/><circle cx="159" cy="657" r="2.2"/><circle cx="160" cy="669" r="2.2"/><circle cx="198" cy="664" r="2.2"/>
<circle cx="229" cy="529" r="2.2"/><circle cx="252" cy="543" r="2.2"/><circle cx="223" cy="601" r="2.2"/><circle cx="217" cy="609" r="2.2"/><circle cx="228" cy="611" r="2.2"/><circle cx="239" cy="613" r="2.2"/><circle cx="261" cy="608" r="2.2"/><circle cx="272" cy="599" r="2.2"/><circle cx="273" cy="613" r="2.2"/><circle cx="266" cy="621" r="2.2"/>
<circle cx="381" cy="142" r="2.2"/><circle cx="357" cy="153" r="2.2"/><circle cx="320" cy="239" r="2.2"/><circle cx="320" cy="250" r="2.2"/><circle cx="421" cy="316" r="2.2"/><circle cx="434" cy="332" r="2.2"/><circle cx="446" cy="332" r="2.2"/><circle cx="457" cy="332" r="2.2"/><circle cx="313" cy="356" r="2.2"/>
<circle cx="445" cy="332" r="2.2"/><circle cx="532" cy="598" r="2.2"/><circle cx="567" cy="208" r="2.2"/><circle cx="803" cy="212" r="2.2"/>
<circle cx="716" cy="660" r="2.2"/><circle cx="727" cy="660" r="2.2"/><circle cx="812" cy="702" r="2.2"/><circle cx="815" cy="713" r="2.2"/><circle cx="744" cy="718" r="2.2"/><circle cx="759" cy="724" r="2.2"/>
</g>
</svg>
</body></html>
